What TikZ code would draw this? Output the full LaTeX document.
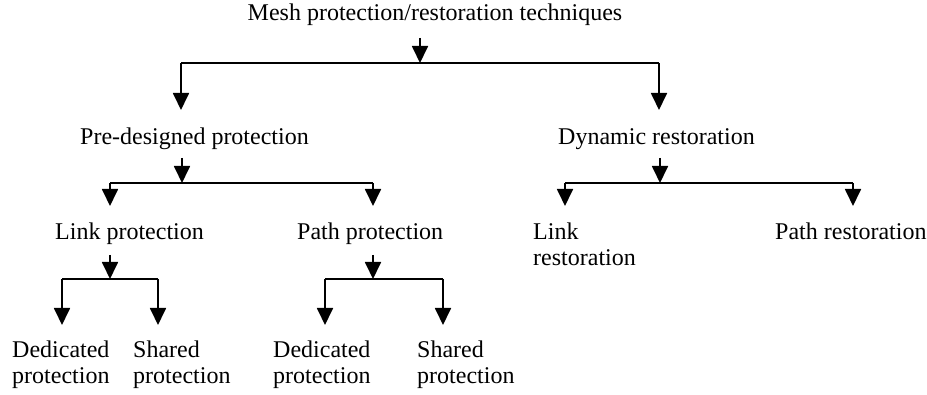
\documentclass[tikz,border=0pt]{standalone}
\usepackage{fontspec}
\setmainfont{Liberation Serif}
\usetikzlibrary{arrows.meta}
\begin{document}
\begin{tikzpicture}[x=1pt,y=-1pt,
  lbl/.style={inner sep=0pt, anchor=base west, align=left,
              font=\fontsize{24}{26}\selectfont},
  wire/.style={line width=1.8pt},
  arr/.style={wire, -{Triangle[width=16pt,length=17pt]}}]
\useasboundingbox (0,0) rectangle (927,395);

% labels (two-line labels are placed by the baseline of their last line)
\node[lbl, anchor=base] (root) at (435,21) {Mesh protection/restoration techniques};
\node[lbl] (pre)  at (80,145)  {Pre-designed protection};
\node[lbl] (dyn)  at (558,145) {Dynamic restoration};
\node[lbl] (lp)   at (55,240)  {Link protection};
\node[lbl] (pp)   at (297,240) {Path protection};
\node[lbl] (lr)   at (533,266) {Link\\restoration};
\node[lbl] (pr)   at (775,240) {Path restoration};
\node[lbl] (ld)   at (12,384)  {Dedicated\\protection};
\node[lbl] (ls)   at (133,384) {Shared\\protection};
\node[lbl] (pd)   at (273,384) {Dedicated\\protection};
\node[lbl] (ps)   at (417,384) {Shared\\protection};

% stem tops and junctions
\coordinate (s0) at (420,38);  \coordinate (j0) at (420,63);
\coordinate (s1) at (182,158); \coordinate (j1) at (182,183);
\coordinate (s2) at (660,158); \coordinate (j2) at (660,183);
\coordinate (s3) at (110,255); \coordinate (j3) at (110,279);
\coordinate (s4) at (373,255); \coordinate (j4) at (373,279);

% arrow tips above each child
\coordinate (t1) at (181,110); \coordinate (t2) at (659,110);
\coordinate (t3) at (110,206); \coordinate (t4) at (373,206);
\coordinate (t5) at (565,206); \coordinate (t6) at (853,206);
\coordinate (t7) at (62,325);  \coordinate (t8) at (158,325);
\coordinate (t9) at (325,325); \coordinate (t10) at (443,325);

% level 0
\draw[arr] (s0) -- (j0);
\draw[wire] (t1 |- j0) -- (t2 |- j0);
\draw[arr] (t1 |- j0) -- (t1);
\draw[arr] (t2 |- j0) -- (t2);

% pre-designed protection
\draw[arr] (s1) -- (j1);
\draw[wire] (t3 |- j1) -- (t4 |- j1);
\draw[arr] (t3 |- j1) -- (t3);
\draw[arr] (t4 |- j1) -- (t4);

% dynamic restoration
\draw[arr] (s2) -- (j2);
\draw[wire] (t5 |- j2) -- (t6 |- j2);
\draw[arr] (t5 |- j2) -- (t5);
\draw[arr] (t6 |- j2) -- (t6);

% link protection
\draw[arr] (s3) -- (j3);
\draw[wire] (t7 |- j3) -- (t8 |- j3);
\draw[arr] (t7 |- j3) -- (t7);
\draw[arr] (t8 |- j3) -- (t8);

% path protection
\draw[arr] (s4) -- (j4);
\draw[wire] (t9 |- j4) -- (t10 |- j4);
\draw[arr] (t9 |- j4) -- (t9);
\draw[arr] (t10 |- j4) -- (t10);
\end{tikzpicture}
\end{document}
